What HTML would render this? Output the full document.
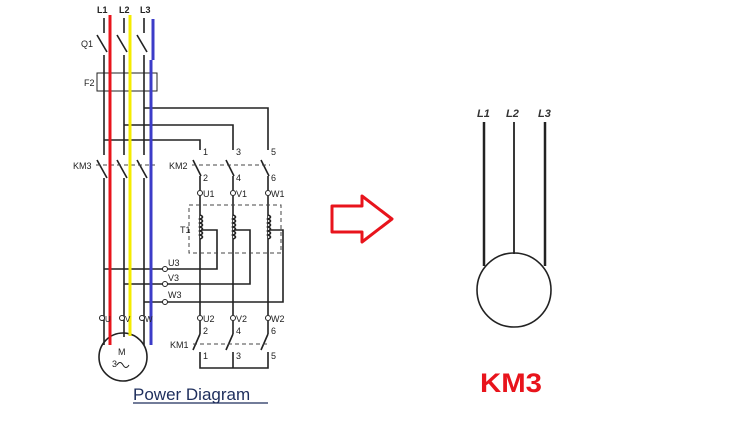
<!DOCTYPE html>
<html><head><meta charset="utf-8"><style>
html,body{margin:0;padding:0;background:#fff;}
svg{display:block;}
text{font-family:"Liberation Sans",sans-serif;}
</style></head><body>
<svg width="746" height="437" viewBox="0 0 746 437" xmlns="http://www.w3.org/2000/svg">
<rect width="746" height="437" fill="#fff"/>
<g stroke="#222" stroke-width="1.6" fill="none">
<line x1="104" y1="18" x2="104" y2="33"/><line x1="124" y1="18" x2="124" y2="33"/><line x1="144" y1="18" x2="144" y2="33"/>
<line x1="97" y1="35" x2="107" y2="52"/><line x1="117" y1="35" x2="127" y2="52"/><line x1="137" y1="35" x2="147" y2="52"/>
<line x1="104" y1="55" x2="104" y2="155"/><line x1="124" y1="55" x2="124" y2="155"/><line x1="144" y1="55" x2="144" y2="155"/>
<rect x="97" y="73" width="60" height="18" stroke-width="1"/>
<polyline points="144,108 268,108 268,150"/>
<polyline points="124,125 233,125 233,150"/>
<polyline points="104,140 200,140 200,150"/>
<line x1="97" y1="160" x2="107" y2="178"/><line x1="117" y1="160" x2="127" y2="178"/><line x1="137" y1="160" x2="147" y2="178"/>
<line x1="104" y1="178" x2="104" y2="345"/><line x1="124" y1="178" x2="124" y2="337"/><line x1="144" y1="178" x2="144" y2="345"/>
<line x1="193" y1="160" x2="201" y2="176"/><line x1="226" y1="160" x2="234" y2="176"/><line x1="261" y1="160" x2="269" y2="176"/>
<line x1="200" y1="176" x2="200" y2="190"/><line x1="233" y1="176" x2="233" y2="190"/><line x1="268" y1="176" x2="268" y2="190"/>
<line x1="200" y1="196" x2="200" y2="315"/><line x1="233" y1="196" x2="233" y2="315"/><line x1="268" y1="196" x2="268" y2="315"/>
<path d="M200 215 q5 2 0 4 q5 2 0 4 q5 2 0 4 q5 2 0 4 q5 2 0 4 q5 2 0 4" fill="#fff"/>
<path d="M233 215 q5 2 0 4 q5 2 0 4 q5 2 0 4 q5 2 0 4 q5 2 0 4 q5 2 0 4" fill="#fff"/>
<path d="M268 215 q5 2 0 4 q5 2 0 4 q5 2 0 4 q5 2 0 4 q5 2 0 4 q5 2 0 4" fill="#fff"/>
<polyline points="201,230 217,230 217,269 104,269"/>
<polyline points="234,230 250,230 250,284 124,284"/>
<polyline points="269,230 283,230 283,302 144,302"/>
<line x1="200" y1="321" x2="200" y2="334"/><line x1="233" y1="321" x2="233" y2="334"/><line x1="268" y1="321" x2="268" y2="334"/>
<line x1="200" y1="334" x2="193" y2="350"/><line x1="233" y1="334" x2="226" y2="350"/><line x1="268" y1="334" x2="261" y2="350"/>
<polyline points="200,352 200,368 268,368 268,352"/><line x1="233" y1="352" x2="233" y2="368"/>
<circle cx="123" cy="357" r="24"/>
<path d="M117 365 q3 -5 6 0 q3 5 6 0" stroke-width="1"/>
</g>
<g stroke="#444" stroke-width="1" stroke-dasharray="4,3" fill="none">
<line x1="96" y1="165" x2="155" y2="165"/>
<line x1="192" y1="165" x2="270" y2="165"/>
<rect x="189" y="205" width="92" height="48"/>
<line x1="193" y1="344" x2="270" y2="344"/>
</g>
<g fill="#fff" stroke="#222" stroke-width="1">
<circle cx="200" cy="193" r="2.5"/><circle cx="233" cy="193" r="2.5"/><circle cx="268" cy="193" r="2.5"/>
<circle cx="165" cy="269" r="2.5"/><circle cx="165" cy="284" r="2.5"/><circle cx="165" cy="302" r="2.5"/>
<circle cx="200" cy="318" r="2.5"/><circle cx="233" cy="318" r="2.5"/><circle cx="268" cy="318" r="2.5"/>
<circle cx="102" cy="318" r="2.5"/><circle cx="122" cy="318" r="2.5"/><circle cx="142" cy="318" r="2.5"/>
</g>
<line x1="110" y1="15" x2="110" y2="345" stroke="#e8141c" stroke-width="3"/>
<line x1="130" y1="15" x2="130" y2="336" stroke="#f5ec00" stroke-width="3"/>
<line x1="153" y1="19" x2="153" y2="60" stroke="#3c3cc8" stroke-width="3"/>
<line x1="151" y1="60" x2="151" y2="345" stroke="#3c3cc8" stroke-width="3"/>
<g font-size="9" fill="#222">
<text x="97" y="13" font-weight="bold">L1</text><text x="119" y="13" font-weight="bold">L2</text><text x="140" y="13" font-weight="bold">L3</text>
<text x="81" y="47">Q1</text><text x="84" y="86">F2</text>
<text x="73" y="169">KM3</text><text x="169" y="169">KM2</text>
<text x="203" y="155">1</text><text x="236" y="155">3</text><text x="271" y="155">5</text>
<text x="203" y="181">2</text><text x="236" y="181">4</text><text x="271" y="181">6</text>
<text x="203" y="197">U1</text><text x="236" y="197">V1</text><text x="271" y="197">W1</text>
<text x="180" y="233">T1</text>
<text x="168" y="266">U3</text><text x="168" y="281">V3</text><text x="168" y="298">W3</text>
<text x="203" y="322">U2</text><text x="236" y="322">V2</text><text x="271" y="322">W2</text>
<text x="203" y="334">2</text><text x="236" y="334">4</text><text x="271" y="334">6</text>
<text x="170" y="348">KM1</text>
<text x="203" y="359">1</text><text x="236" y="359">3</text><text x="271" y="359">5</text>
<text x="105" y="322" font-size="8">U</text><text x="125" y="322" font-size="8">V</text><text x="145" y="322" font-size="8">W</text>
<text x="118" y="355">M</text><text x="112" y="367">3</text>
</g>
<text x="133" y="400" font-size="17" fill="#1e2e5c">Power Diagram</text>
<line x1="133" y1="403" x2="268" y2="403" stroke="#1e2e5c" stroke-width="1.2"/>
<polygon points="332,206 362,206 362,196 392,219 362,242 362,232 332,232" fill="none" stroke="#e8141c" stroke-width="3" stroke-linejoin="round"/>
<g stroke="#222" fill="none">
<line x1="484" y1="122" x2="484" y2="266" stroke-width="2.5"/>
<line x1="514" y1="122" x2="514" y2="254" stroke-width="1.8"/>
<line x1="545" y1="122" x2="545" y2="266" stroke-width="2.5"/>
<circle cx="514" cy="290" r="37" stroke-width="1.6"/>
</g>
<g font-size="11" font-style="italic" font-weight="bold" fill="#333">
<text x="477" y="117">L1</text><text x="506" y="117">L2</text><text x="538" y="117">L3</text>
</g>
<text x="480" y="392" font-size="27" font-weight="bold" fill="#e8141c" textLength="62" lengthAdjust="spacingAndGlyphs">KM3</text>
</svg>
</body></html>
